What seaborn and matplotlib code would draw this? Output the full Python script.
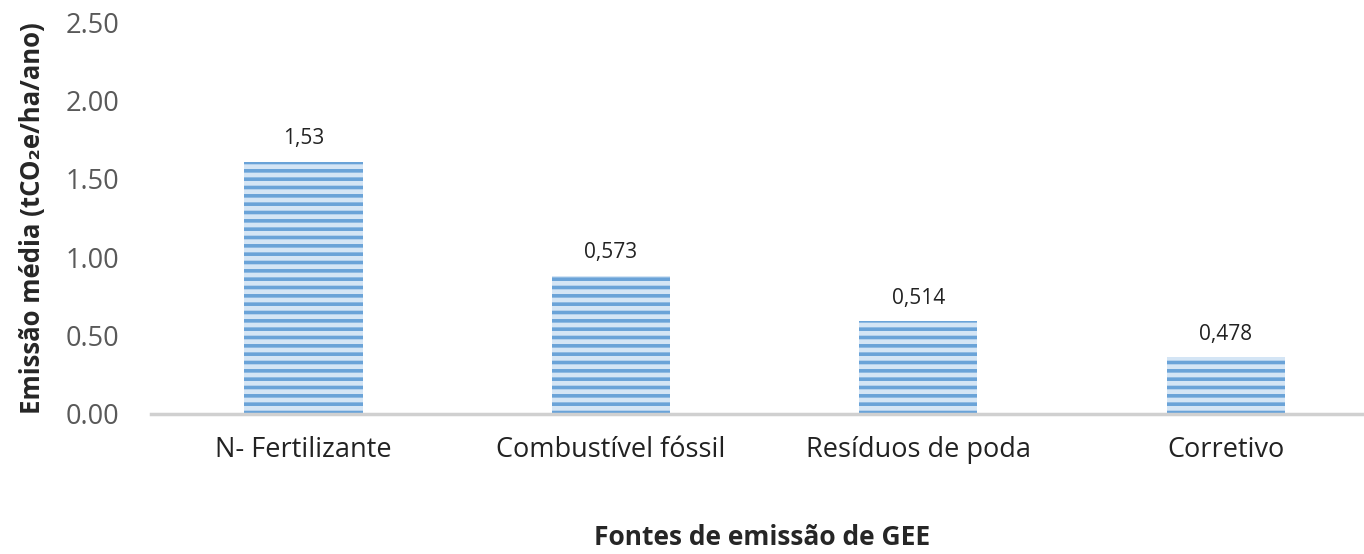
import pandas as pd
import matplotlib
matplotlib.use("Agg")
import matplotlib.pyplot as plt
import seaborn as sns

# Dados
fontes = ["N- Fertilizante", "Combustível fóssil", "Resíduos de poda", "Corretivo"]
alturas = [1.61, 0.88, 0.59, 0.36]          # altura das barras no eixo
rotulos = ["1,53", "0,573", "0,514", "0,478"]  # rótulos de dados exibidos

df = pd.DataFrame({"fonte": fontes, "emissao": alturas})

sns.set_style("white")
plt.rcParams["font.family"] = ["Open Sans", "DejaVu Sans"]
plt.rcParams["hatch.linewidth"] = 2.6

fig = plt.figure(figsize=(13.64, 5.54), dpi=100)
ax = fig.add_axes([0.111, 0.253, 0.889, 0.707])

sns.barplot(data=df, x="fonte", y="emissao", ax=ax, color="#d4e5f5",
            width=0.385, linewidth=0)
# listras horizontais como no original
for barra in ax.patches:
    barra.set_facecolor("#d4e5f5")
    barra.set_edgecolor("#6aa3d8")
    barra.set_linewidth(0)
    barra.set_hatch("--")

for barra, txt in zip(ax.patches, rotulos):
    ax.annotate(txt, (barra.get_x() + barra.get_width() / 2, barra.get_height()),
                xytext=(0, 9), textcoords="offset points",
                ha="center", va="bottom", fontsize=15, color="#222222")

ax.set_ylim(0, 2.5)
ax.set_xlim(-0.495, 3.45)
ax.set_yticks([0, 0.5, 1.0, 1.5, 2.0, 2.5])
ax.set_yticklabels([f"{v:.2f}" for v in [0, 0.5, 1.0, 1.5, 2.0, 2.5]])
ax.tick_params(axis="y", length=0, pad=23, labelsize=19.5, labelcolor="#595959")
ax.tick_params(axis="x", length=0, pad=16, labelsize=19.5, labelcolor="#222222")

for lado in ["top", "right", "left"]:
    ax.spines[lado].set_visible(False)
ax.spines["bottom"].set_color("#d0d0d0")
ax.spines["bottom"].set_linewidth(2.5)

ax.set_xlabel("")
ax.set_ylabel("Emissão média (tCO₂e/ha/ano)", fontsize=18.5, fontweight="bold", labelpad=14)
fig.text(0.559, 0.005, "Fontes de emissão de GEE", ha="center", va="bottom",
         fontsize=19, fontweight="bold")

fig.savefig("out.png", dpi=100)
